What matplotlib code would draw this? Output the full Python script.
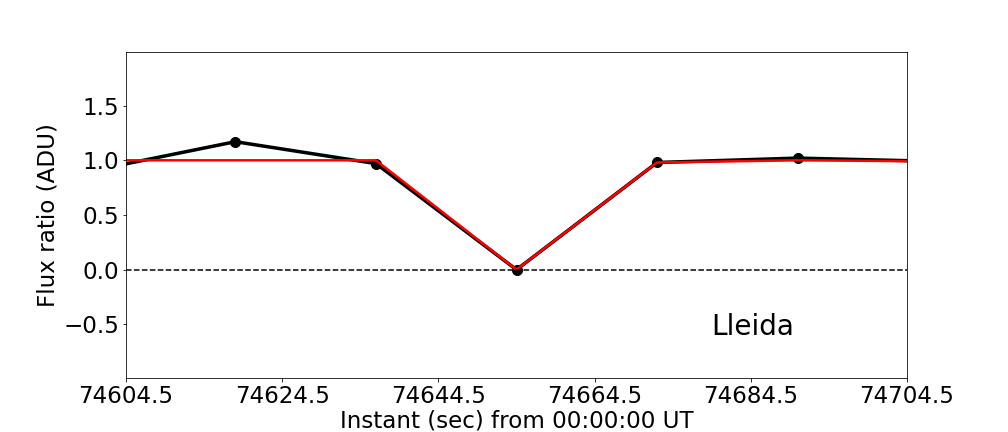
import matplotlib
matplotlib.use("Agg")
from matplotlib import pyplot as plt
import numpy as np

# observed flux ratio
t_obs = [74600.5, 74618.5, 74636.5, 74654.5, 74672.5, 74690.5, 74708.5]
flux_obs = [0.91, 1.17, 0.97, 0.0, 0.98, 1.02, 0.99]

# model light curve
t_mod = [74600.5, 74618.5, 74636.5, 74654.5, 74672.5, 74690.5, 74708.5]
flux_mod = [1.0, 1.0, 1.0, 0.0, 0.98, 1.0, 0.99]

xticks = [74604.5, 74624.5, 74644.5, 74664.5, 74684.5, 74704.5]
yticks = [-0.5, 0.0, 0.5, 1.0, 1.5]

fig = plt.figure(figsize=(14, 6), dpi=72)
ax = fig.add_axes([126/1008, 1-378/432, 781/1008, 326/432])

ax.plot(t_obs, flux_obs, 'k-', lw=3.5)
ax.plot(t_obs, flux_obs, 'ko', ms=10)
ax.plot(t_mod, flux_mod, 'r-', lw=2.5)
ax.axhline(0.0, color='k', ls='--', lw=1.5)

ax.set_xlim(74604.5, 74704.5)
ax.set_ylim(-0.99, 1.99)
ax.set_xticks(xticks)
ax.set_xticklabels([f"{x:.1f}" for x in xticks])
ax.set_yticks(yticks)
ax.tick_params(labelsize=23)
ax.set_xlabel("Instant (sec) from 00:00:00 UT", fontsize=23, labelpad=1)
ax.set_ylabel("Flux ratio (ADU)", fontsize=23)
ax.text(74684.8, -0.52, "Lleida", fontsize=28, ha='center', va='center')

fig.savefig("out.png", dpi=72)
